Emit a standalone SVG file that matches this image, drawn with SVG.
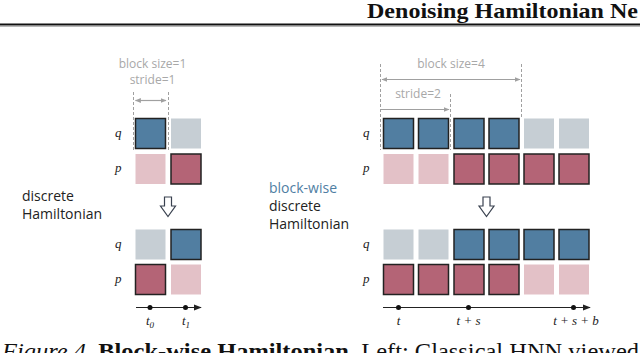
<svg xmlns="http://www.w3.org/2000/svg" width="640" height="353" viewBox="0 0 640 353">
<style>
.lbl{font-family:"Open Sans","DejaVu Sans",sans-serif;font-size:12px;fill:#a8a8a8;text-anchor:middle}
.side{font-family:"Open Sans","DejaVu Sans",sans-serif;font-size:14px;fill:#222}
.math{font-family:"Liberation Serif","Times New Roman",serif;font-style:italic;font-size:13px;fill:#222}
.mathc{font-family:"Liberation Serif","Times New Roman",serif;font-style:italic;font-size:13px;fill:#222;text-anchor:middle}
.dash{stroke:#a0a0a0;stroke-width:1;stroke-dasharray:3,2;fill:none}
.garrow{stroke:#a0a0a0;stroke-width:1.2;fill:none}
.axis{stroke:#222;stroke-width:1.2;fill:none}
.blue{fill:#517ea1;stroke:#222;stroke-width:1.5}
.red{fill:#b46476;stroke:#222;stroke-width:1.5}
.gray{fill:#c6ced4}
.pink{fill:#e3c1c7}
.down{fill:#fff;stroke:#3a4250;stroke-width:1.2;stroke-linejoin:miter}
</style>
<defs>
<marker id="ga" viewBox="0 0 10 10" refX="9" refY="5" markerWidth="6" markerHeight="6" orient="auto-start-reverse" markerUnits="userSpaceOnUse">
<path d="M0,1 L10,5 L0,9 z" fill="#a0a0a0"/>
</marker>
<marker id="ka" viewBox="0 0 10 10" refX="9" refY="5" markerWidth="8" markerHeight="8" orient="auto" markerUnits="userSpaceOnUse">
<path d="M0,1 L10,5 L0,9 z" fill="#222"/>
</marker>
</defs>

<!-- header -->
<g id="header">
<text x="367" y="18" font-family="Liberation Serif,'Times New Roman',serif" font-weight="bold" font-size="22" fill="#111" textLength="271" lengthAdjust="spacingAndGlyphs">Denoising Hamiltonian Ne</text>
<rect x="0" y="23.5" width="640" height="2" fill="#111"/>
<line x1="0" y1="26.5" x2="640" y2="26.5" stroke="#888" stroke-width="0.6"/>
</g>

<!-- left panel -->
<g id="left-annot">
<text class="lbl" x="152.5" y="68">block size=1</text>
<text class="lbl" x="152.5" y="84">stride=1</text>
</g>
<g id="left-top-q"><text class="math" x="115" y="137">q</text>
<rect class="blue" x="135.5" y="118.5" width="30" height="30"/>
<rect class="gray" x="171" y="118.5" width="30" height="30"/></g>
<g id="left-top-p"><text class="math" x="115" y="172">p</text>
<rect class="pink" x="135.5" y="154" width="30" height="30"/>
<rect class="red" x="171" y="154" width="30" height="30"/></g>
<g id="left-label"><text class="side" x="22" y="201">discrete</text><text class="side" x="22" y="219">Hamiltonian</text></g>
<g id="left-down"><path class="down" d="M164.5,197 h7 v9 h4 l-7.5,10.5 l-7.5,-10.5 h4 z"/></g>
<g id="left-bot-q"><text class="math" x="115" y="248">q</text>
<rect class="gray" x="135.5" y="229.5" width="30" height="30"/>
<rect class="blue" x="171" y="229.5" width="30" height="30"/></g>
<g id="left-bot-p"><text class="math" x="115" y="283">p</text>
<rect class="red" x="135.5" y="264.5" width="30" height="30"/>
<rect class="pink" x="171" y="264.5" width="30" height="30"/></g>
<g id="left-axis-labels">
<text class="mathc" x="150" y="325">t<tspan font-size="9" dy="3">0</tspan></text>
<text class="mathc" x="186" y="325">t<tspan font-size="9" dy="3">1</tspan></text>
</g>

<!-- right panel -->
<g id="right-annot">
<text class="lbl" x="451" y="68">block size=4</text>
<text class="lbl" x="418" y="98">stride=2</text>
</g>
<g id="right-top-q"><text class="math" x="363" y="137">q</text>
<rect class="blue" x="383.5" y="118.5" width="30" height="30"/>
<rect class="blue" x="418.5" y="118.5" width="30" height="30"/>
<rect class="blue" x="454" y="118.5" width="30" height="30"/>
<rect class="blue" x="489" y="118.5" width="30" height="30"/>
<rect class="gray" x="524" y="118.5" width="30" height="30"/>
<rect class="gray" x="559" y="118.5" width="30" height="30"/></g>
<g id="right-top-p"><text class="math" x="363" y="172">p</text>
<rect class="pink" x="383.5" y="154" width="30" height="30"/>
<rect class="pink" x="418.5" y="154" width="30" height="30"/>
<rect class="red" x="454" y="154" width="30" height="30"/>
<rect class="red" x="489" y="154" width="30" height="30"/>
<rect class="red" x="524" y="154" width="30" height="30"/>
<rect class="red" x="559" y="154" width="30" height="30"/></g>
<g id="right-label"><text class="side" x="269" y="193" style="fill:#4f7ea3">block-wise</text><text class="side" x="269" y="211">discrete</text><text class="side" x="269" y="229">Hamiltonian</text></g>
<g id="right-down"><path class="down" d="M483,197 h7 v9 h4 l-7.5,10.5 l-7.5,-10.5 h4 z"/></g>
<g id="right-bot-q"><text class="math" x="363" y="248">q</text>
<rect class="gray" x="383.5" y="229.5" width="30" height="30"/>
<rect class="gray" x="418.5" y="229.5" width="30" height="30"/>
<rect class="blue" x="454" y="229.5" width="30" height="30"/>
<rect class="blue" x="489" y="229.5" width="30" height="30"/>
<rect class="blue" x="524" y="229.5" width="30" height="30"/>
<rect class="blue" x="559" y="229.5" width="30" height="30"/></g>
<g id="right-bot-p"><text class="math" x="363" y="283">p</text>
<rect class="red" x="383.5" y="264.5" width="30" height="30"/>
<rect class="red" x="418.5" y="264.5" width="30" height="30"/>
<rect class="red" x="454" y="264.5" width="30" height="30"/>
<rect class="red" x="489" y="264.5" width="30" height="30"/>
<rect class="pink" x="524" y="264.5" width="30" height="30"/>
<rect class="pink" x="559" y="264.5" width="30" height="30"/></g>
<g id="right-axis-labels">
<text class="mathc" x="398.5" y="325">t</text>
<text class="mathc" x="468.5" y="325">t + s</text>
<text class="mathc" x="576" y="325">t + s + b</text>
</g>

<!-- connectors -->
<g id="connectors">
<line class="dash" x1="133.5" y1="92" x2="133.5" y2="150"/>
<line class="dash" x1="168.5" y1="92" x2="168.5" y2="150"/>
<line class="garrow" x1="135.5" y1="100.5" x2="166" y2="100.5" marker-start="url(#ga)" marker-end="url(#ga)"/>
<line class="dash" x1="380.5" y1="64" x2="380.5" y2="150"/>
<line class="dash" x1="521.5" y1="64" x2="521.5" y2="117"/>
<line class="dash" x1="450.5" y1="94" x2="450.5" y2="150"/>
<line class="garrow" x1="382" y1="79.5" x2="520" y2="79.5" marker-start="url(#ga)" marker-end="url(#ga)"/>
<line class="garrow" x1="381" y1="109.5" x2="449" y2="109.5" marker-end="url(#ga)"/>
<line class="axis" x1="136" y1="307.5" x2="201" y2="307.5" marker-end="url(#ka)"/>
<circle cx="150" cy="307.5" r="2.5" fill="#111"/>
<circle cx="185.5" cy="307.5" r="2.5" fill="#111"/>
<line class="axis" x1="383" y1="307.5" x2="590" y2="307.5" marker-end="url(#ka)"/>
<circle cx="398.5" cy="307.5" r="2.5" fill="#111"/>
<circle cx="468.5" cy="307.5" r="2.5" fill="#111"/>
<circle cx="573.5" cy="307.5" r="2.5" fill="#111"/>
</g>

<!-- caption (cut at bottom) -->
<g id="caption">
<text x="2" y="359" font-family="Liberation Serif,'Times New Roman',serif" font-size="24" fill="#111" textLength="637" lengthAdjust="spacingAndGlyphs"><tspan font-style="italic">Figure 4. </tspan><tspan font-weight="bold">Block-wise Hamiltonian.</tspan> Left: Classical HNN viewed</text>
</g>
</svg>
